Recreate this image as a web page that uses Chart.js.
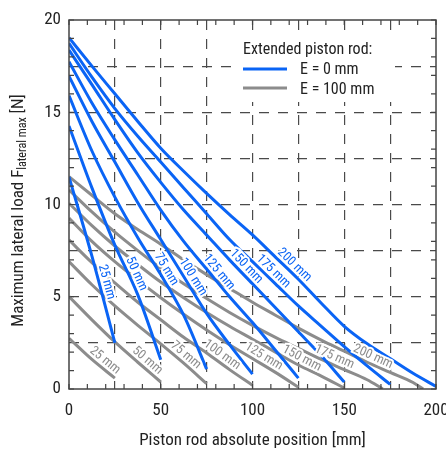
<!DOCTYPE html>
<html>
<head>
<meta charset="utf-8">
<script src="https://cdn.jsdelivr.net/npm/chart.js@4.4.1/dist/chart.umd.min.js"></script>
<style>
    html, body { margin: 0; padding: 0; background: #fff; }
    #wrap { width: 446px; height: 451px; }
</style>
</head>
<body>
<div id="wrap"><canvas id="loadChart" width="446" height="451"></canvas></div>
<script>
// piston rod absolute position [mm], one sample every 12.5 mm
const positions = [0, 12.5, 25, 37.5, 50, 62.5, 75, 87.5, 100, 112.5, 125, 137.5, 150, 162.5, 175, 187.5, 200];
const strokes = [25, 50, 75, 100, 125, 150, 175, 200];

// maximum lateral load [N], extended piston rod E = 0 mm
const blue25 = [11.5, 7.2, 2.5];
const blue50 = [14.26, 10.9, 7.8, 5.1, 1.59];
const blue75 = [15.9, 12.9, 10.4, 8.2, 6.2, 4.0, 1.08];
const blue100 = [16.96, 14.5, 12.3, 10.1, 8.1, 6.1, 4.1, 2.4, 0.81];
const blue125 = [17.74, 15.5, 13.5, 11.6, 9.7, 8.0, 6.5, 5.0, 3.6, 2.1, 0.59];
const blue150 = [18.37, 16.5, 14.6, 12.8, 11.2, 9.7, 8.35, 7.0, 5.7, 4.4, 3.1, 1.8, 0.38];
const blue175 = [18.73, 16.9, 15.2, 13.7, 12.3, 10.9, 9.5, 8.1, 6.9, 5.7, 4.5, 3.4, 2.3, 1.25, 0.25];
const blue200 = [19.04, 17.5, 16.0, 14.5, 13.05, 11.8, 10.6, 9.45, 8.35, 7.15, 5.95, 4.65, 3.4, 2.45, 1.65, 0.85, 0.14];

// maximum lateral load [N], extended piston rod E = 100 mm
const gray25 = [2.75, 1.6, 0.59];
const gray50 = [5.01, 3.75, 2.55, 1.45, 0.38];
const gray75 = [6.91, 5.65, 4.5, 3.45, 2.45, 1.4, 0.29];
const gray100 = [8.08, 6.85, 5.75, 4.7, 3.75, 2.8, 1.95, 1.05, 0.2];
const gray125 = [9.26, 8.0, 6.9, 5.9, 4.95, 4.05, 3.2, 2.4, 1.65, 0.9, 0.1];
const gray150 = [10.07, 8.85, 7.75, 6.75, 5.8, 4.95, 4.15, 3.4, 2.7, 2.0, 1.3, 0.7, 0.05];
const gray175 = [10.79, 9.6, 8.5, 7.5, 6.55, 5.7, 4.9, 4.15, 3.45, 2.8, 2.2, 1.6, 1.05, 0.5, 0];
const gray200 = [11.51, 10.5, 9.5, 8.65, 7.85, 7.0, 6.2, 5.45, 4.7, 4.0, 3.3, 2.65, 2.05, 1.45, 0.9, 0.35, 0];
// last position of each E = 100 mm curve (the longest ones reach zero early)
const grayEnds = [25, 50, 75, 100, 125, 150, 171, 193];

// where the curve labels sit along the curves [mm]
const blueLabelAt = [16.5, 33, 49.5, 64, 78.5, 93.6, 108.5, 120];
const grayLabelAt = [17, 40, 61, 81, 104, 125, 143, 164];

const blueSeries = [blue25, blue50, blue75, blue100, blue125, blue150, blue175, blue200];
const graySeries = [gray25, gray50, gray75, gray100, gray125, gray150, gray175, gray200];

const BLUE = "#0a64f5";
const GRAY = "#8c8c8c";
const INK = "#222";
const FONT = '"Roboto Condensed", Roboto, sans-serif';

function toPoints(values, lastX) {
    return values.map(function (v, i) {
        var x = (i === values.length - 1 && lastX !== undefined) ? lastX : positions[i];
        return { x: x, y: v };
    });
}

var datasets = [];
blueSeries.forEach(function (vals, i) {
    datasets.push({
        label: "E = 0 mm, " + strokes[i] + " mm",
        data: toPoints(vals),
        borderColor: BLUE,
        curveText: strokes[i] + " mm",
        labelAt: blueLabelAt[i]
    });
});
graySeries.forEach(function (vals, i) {
    datasets.push({
        label: "E = 100 mm, " + strokes[i] + " mm",
        data: toPoints(vals, grayEnds[i]),
        borderColor: GRAY,
        curveText: strokes[i] + " mm",
        labelAt: grayLabelAt[i]
    });
});
datasets.forEach(function (d) {
    d.borderWidth = 3;
    d.pointRadius = 0;
    d.fill = false;
    d.cubicInterpolationMode = "monotone";
});

// y value of a dataset at position x (straight between samples)
function valueAt(pts, x) {
    for (var i = 0; i < pts.length - 1; i++) {
        if (x <= pts[i + 1].x) {
            var t = (x - pts[i].x) / (pts[i + 1].x - pts[i].x);
            return pts[i].y + t * (pts[i + 1].y - pts[i].y);
        }
    }
    return pts[pts.length - 1].y;
}

// frame, inward minor ticks, curve labels, legend, y title
const decorations = {
    id: "decorations",
    afterDatasetsDraw: function (chart) {
        var ctx = chart.ctx;
        var area = chart.chartArea;
        var xs = chart.scales.x, ys = chart.scales.y;

        // curve labels
        ctx.save();
        ctx.font = "13px " + FONT;
        ctx.textAlign = "center";
        ctx.textBaseline = "middle";
        chart.data.datasets.forEach(function (d) {
            var pts = d.data;
            var a = d.labelAt;
            var lo = Math.max(pts[0].x, a - 2), hi = Math.min(pts[pts.length - 1].x, a + 2);
            var x0 = xs.getPixelForValue(lo), y0 = ys.getPixelForValue(valueAt(pts, lo));
            var x1 = xs.getPixelForValue(hi), y1 = ys.getPixelForValue(valueAt(pts, hi));
            var ang = Math.atan2(y1 - y0, x1 - x0);
            var cx = xs.getPixelForValue(a), cy = ys.getPixelForValue(valueAt(pts, a));
            var off = 7.5;
            ctx.save();
            ctx.translate(cx + Math.sin(ang) * off, cy - Math.cos(ang) * off);
            ctx.rotate(ang);
            ctx.lineWidth = 4;
            ctx.strokeStyle = "#fff";
            ctx.strokeText(d.curveText, 0, 0);
            ctx.fillStyle = d.borderColor;
            ctx.fillText(d.curveText, 0, 0);
            ctx.restore();
        });
        ctx.restore();

        // legend box
        ctx.save();
        ctx.fillStyle = "#fff";
        ctx.fillRect(238, 34, 157, 68);
        ctx.font = "16px " + FONT;
        ctx.fillStyle = INK;
        ctx.textAlign = "left";
        ctx.textBaseline = "middle";
        ctx.fillText("Extended piston rod:", 243, 50);
        ctx.fillText("E = 0 mm", 300, 70);
        ctx.fillText("E = 100 mm", 300, 90);
        ctx.lineWidth = 3;
        ctx.strokeStyle = BLUE;
        ctx.beginPath(); ctx.moveTo(243, 69); ctx.lineTo(287, 69); ctx.stroke();
        ctx.strokeStyle = GRAY;
        ctx.beginPath(); ctx.moveTo(243, 88); ctx.lineTo(287, 88); ctx.stroke();
        ctx.restore();

        // frame and inward minor ticks
        ctx.save();
        ctx.strokeStyle = "#444";
        ctx.lineWidth = 1.2;
        ctx.beginPath();
        for (var mm = 0; mm <= 200; mm += 10) {
            var px = xs.getPixelForValue(mm);
            ctx.moveTo(px, area.bottom); ctx.lineTo(px, area.bottom - 5);
            ctx.moveTo(px, area.top); ctx.lineTo(px, area.top + 5);
        }
        for (var n = 0; n <= 20; n += 1) {
            var py = ys.getPixelForValue(n);
            ctx.moveTo(area.left, py); ctx.lineTo(area.left + 5, py);
            ctx.moveTo(area.right, py); ctx.lineTo(area.right - 5, py);
        }
        ctx.stroke();
        ctx.lineWidth = 1.5;
        ctx.strokeRect(area.left, area.top, area.right - area.left, area.bottom - area.top);
        ctx.restore();

        // y axis title with subscript
        ctx.save();
        ctx.translate(19, (area.top + area.bottom) / 2 + 6);
        ctx.rotate(-Math.PI / 2);
        ctx.fillStyle = INK;
        ctx.textBaseline = "middle";
        ctx.textAlign = "left";
        var parts = [["Maximum lateral load F", 17, 0], ["lateral max", 12, 4], [" [N]", 17, 0]];
        var total = 0;
        parts.forEach(function (p) { ctx.font = p[1] + "px " + FONT; total += ctx.measureText(p[0]).width; });
        var tx = -total / 2;
        parts.forEach(function (p) {
            ctx.font = p[1] + "px " + FONT;
            ctx.fillText(p[0], tx, p[2]);
            tx += ctx.measureText(p[0]).width;
        });
        ctx.restore();
    }
};

const canvas = document.getElementById("loadChart").getContext("2d");

const loadChart = new Chart(canvas, {
    type: "line",
    data: { datasets: datasets },
    plugins: [decorations],
    options: {
        responsive: false,
        animation: false,
        devicePixelRatio: 1,
        layout: { padding: { left: 0, top: 20, right: 10, bottom: 0 } },
        plugins: { legend: { display: false }, tooltip: { enabled: false } },
        scales: {
            x: {
                type: "linear",
                min: 0,
                max: 200,
                afterFit: function (scale) { scale.height = 62; scale.paddingLeft = 0; scale.paddingRight = 0; },
                ticks: {
                    stepSize: 25,
                    autoSkip: false,
                    maxRotation: 0,
                    padding: 12,
                    color: INK,
                    font: { family: FONT, size: 17 },
                    callback: function (v) { return v % 50 === 0 ? v : ""; }
                },
                grid: {
                    drawTicks: false,
                    lineWidth: 1.2,
                    color: function (c) {
                        return (c.tick && (c.tick.value === 0 || c.tick.value === 200)) ? "rgba(0,0,0,0)" : "#4a4a4a";
                    }
                },
                border: { display: false, dash: [10, 9] },
                title: {
                    display: true,
                    text: "Piston rod absolute position [mm]",
                    color: INK,
                    font: { family: FONT, size: 17 },
                    padding: { top: 0, bottom: 0 }
                }
            },
            y: {
                min: 0,
                max: 20,
                afterFit: function (scale) { scale.width = 69; scale.paddingTop = 0; scale.paddingBottom = 0; },
                ticks: {
                    stepSize: 2.5,
                    autoSkip: false,
                    padding: 8,
                    color: INK,
                    font: { family: FONT, size: 17 },
                    callback: function (v) { return v % 5 === 0 ? v : ""; }
                },
                grid: {
                    drawTicks: false,
                    lineWidth: 1.2,
                    color: function (c) {
                        return (c.tick && (c.tick.value === 0 || c.tick.value === 20)) ? "rgba(0,0,0,0)" : "#4a4a4a";
                    }
                },
                border: { display: false, dash: [10, 9] }
            }
        }
    }
});
</script>
</body>
</html>
